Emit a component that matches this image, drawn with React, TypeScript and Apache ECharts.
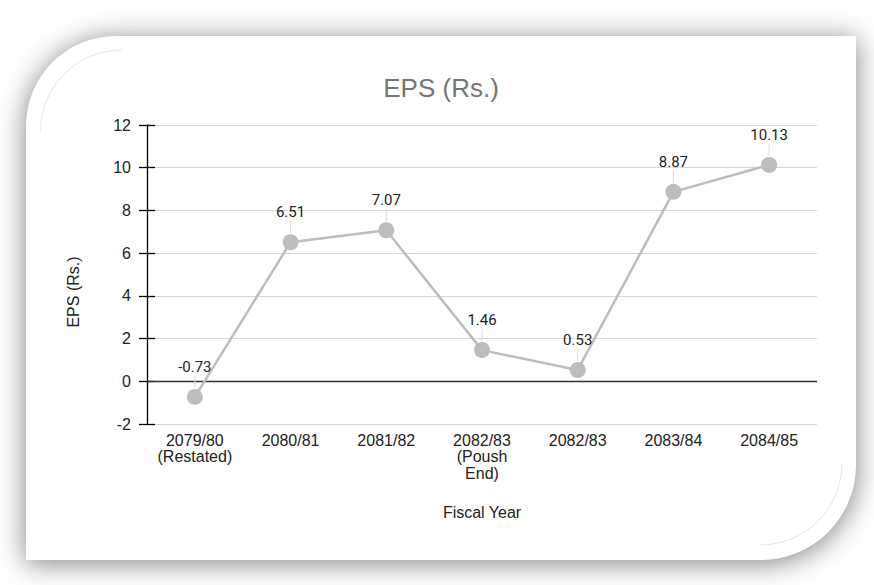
import React, { useEffect, useRef } from "react";
import * as echarts from "echarts";

const categories: string[] = [
  "2079/80\n(Restated)",
  "2080/81",
  "2081/82",
  "2082/83\n(Poush\nEnd)",
  "2082/83",
  "2083/84",
  "2084/85",
];
const epsValues: number[] = [-0.73, 6.51, 7.07, 1.46, 0.53, 8.87, 10.13];
const yTicks = { min: -2, max: 12, interval: 2 };
const titleText = "EPS (Rs.)";
const xAxisName = "Fiscal Year";
const yAxisName = "EPS (Rs.)";

const SANS = "'Liberation Sans', Arial, sans-serif";

export default function App() {
  const ref = useRef<HTMLDivElement | null>(null);

  useEffect(() => {
    if (!ref.current) return;
    const chart = echarts.init(ref.current, undefined, { renderer: "svg" });
    const points = epsValues.map((v, i) => [i, v]);
    chart.setOption({
      animation: false,
      backgroundColor: "transparent",
      grid: { left: 147, right: 57, top: 125, bottom: 161, containLabel: false },
      graphic: [
        {
          type: "text",
          x: 441,
          y: 88,
          style: {
            text: titleText,
            fill: "#757575",
            font: `26px ${SANS}`,
            textAlign: "center",
            textVerticalAlign: "middle",
            align: "center",
            verticalAlign: "middle",
          },
        },
        {
          type: "text",
          x: 482,
          y: 512,
          style: {
            text: xAxisName,
            fill: "#222",
            font: `16px ${SANS}`,
            textAlign: "center",
            textVerticalAlign: "middle",
            align: "center",
            verticalAlign: "middle",
          },
        },
        {
          type: "text",
          x: 73,
          y: 292,
          rotation: Math.PI / 2,
          style: {
            text: yAxisName,
            fill: "#222",
            font: `16px ${SANS}`,
            textAlign: "center",
            textVerticalAlign: "middle",
            align: "center",
            verticalAlign: "middle",
          },
        },
      ],
      xAxis: {
        type: "category",
        data: categories,
        boundaryGap: true,
        axisLine: { show: false },
        axisTick: { show: false },
        splitLine: { show: false },
        axisLabel: {
          interval: 0,
          color: "#222",
          fontFamily: SANS,
          fontSize: 16,
          lineHeight: 16.5,
          margin: 8,
        },
      },
      yAxis: [
        {
          type: "value",
          min: yTicks.min,
          max: yTicks.max,
          interval: yTicks.interval,
          axisLine: { show: true, lineStyle: { color: "#000", width: 1.3 } },
          axisTick: { show: true, length: 8, lineStyle: { color: "#000", width: 1.3 } },
          axisLabel: { color: "#222", fontFamily: SANS, fontSize: 16, margin: 16 },
          splitLine: { show: true, lineStyle: { color: "#d6d6d6", width: 1 } },
        },
        {
          type: "value",
          position: "left",
          min: yTicks.min,
          max: yTicks.max,
          interval: yTicks.interval,
          axisLine: { show: false },
          axisTick: { show: true, inside: true, length: 8, lineStyle: { color: "#000", width: 1.3 } },
          axisLabel: { show: false },
          splitLine: { show: false },
        },
      ],
      series: [
        {
          type: "line",
          data: epsValues,
          yAxisIndex: 0,
          symbol: "circle",
          symbolSize: 16,
          lineStyle: { color: "#bdbdbd", width: 2.5 },
          itemStyle: { color: "#bdbdbd" },
          z: 3,
          markLine: {
            silent: true,
            symbol: "none",
            label: { show: false },
            lineStyle: { color: "#333", width: 1.4, type: "solid" },
            data: [{ yAxis: 0 }],
            z: 2,
          },
        },
        {
          type: "custom",
          data: points,
          yAxisIndex: 0,
          encode: { x: 0, y: 1 },
          clip: false,
          z: 4,
          renderItem: (_params: any, api: any) => {
            const v = api.value(1);
            const p = api.coord([api.value(0), v]);
            return {
              type: "group",
              children: [
                {
                  type: "line",
                  shape: { x1: p[0], y1: p[1] - 21, x2: p[0], y2: p[1] - 9 },
                  style: { stroke: "#dadada", lineWidth: 1 },
                },
                {
                  type: "text",
                  style: {
                    text: v.toFixed(2),
                    x: p[0],
                    y: p[1] - 30,
                    fill: "#222",
                    font: "15px Roboto, sans-serif",
                    textAlign: "center",
                    textVerticalAlign: "middle",
                    align: "center",
                    verticalAlign: "middle",
                  },
                },
              ],
            };
          },
        },
      ],
    });
    return () => chart.dispose();
  }, []);

  return (
    <div
      style={{
        position: "absolute",
        left: 0,
        top: 0,
        width: 874,
        height: 585,
        background: "#fff",
        overflow: "hidden",
      }}
    >
      <div
        style={{
          position: "absolute",
          left: 26,
          top: 36,
          width: 830,
          height: 524,
          background: "#fff",
          borderRadius: "90px 0 95px 0",
          boxShadow: "0 3px 28px rgba(0,0,0,0.5)",
        }}
      />
      <svg
        width={874}
        height={585}
        style={{ position: "absolute", left: 0, top: 0 }}
      >
        <path d="M 40.7 131 A 81 81 0 0 1 122 50" fill="none" stroke="#e4e4e4" strokeWidth={1} />
        <path d="M 842 463 A 82 82 0 0 1 760 545" fill="none" stroke="#e4e4e4" strokeWidth={1} />
      </svg>
      <div
        ref={ref}
        style={{ position: "absolute", left: 0, top: 0, width: 874, height: 585 }}
      />
    </div>
  );
}
